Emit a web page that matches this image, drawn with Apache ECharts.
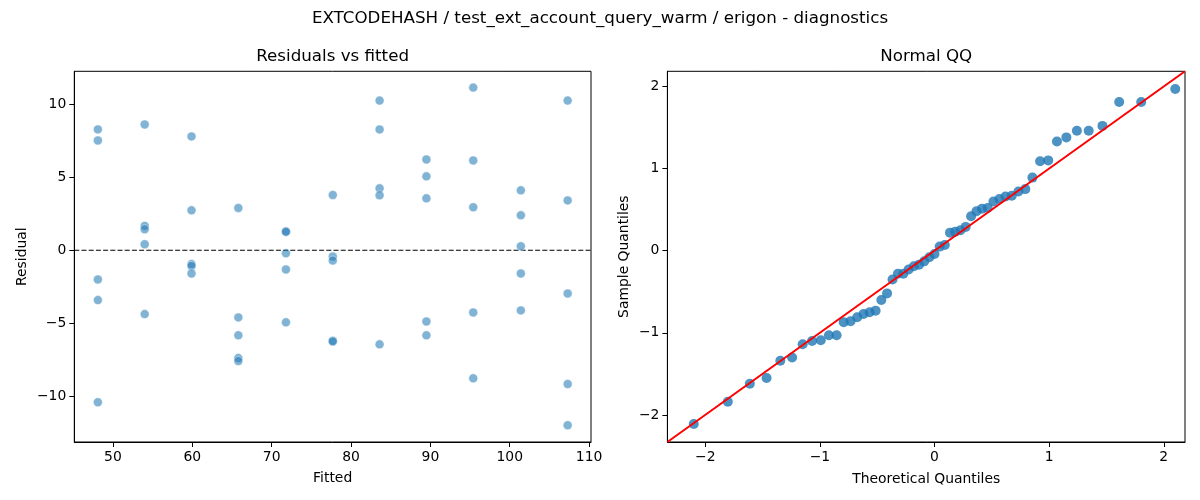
<!DOCTYPE html>
<html>
<head>
<meta charset="utf-8">
<script src="https://cdn.jsdelivr.net/npm/echarts@6/dist/echarts.min.js"></script>
<style>
html,body{margin:0;padding:0;background:#fff;}
#chart{width:1200px;height:500px;}
</style>
</head>
<body>
<div id="chart"></div>
<script>
// ---- data ----
const fitted = [48.1, 54.0, 59.9, 65.8, 71.8, 77.7, 83.6, 89.5, 95.4, 101.4, 107.3];
const residualsByGroup = [
  [8.29, 7.53, -2.01, -3.42, -10.43],
  [8.63, 1.67, 1.44, 0.41, -4.38],
  [7.81, 2.74, -0.95, -1.08, -1.60],
  [2.90, -4.61, -5.84, -7.40, -7.60],
  [1.30, 1.26, -0.21, -1.32, -4.95],
  [3.79, -0.43, -0.71, -6.21, -6.26],
  [10.27, 8.29, 4.25, 3.77, -6.46],
  [6.23, 5.07, 3.56, -4.89, -5.84],
  [11.16, 6.16, 2.95, -4.27, -8.79],
  [4.11, 2.40, 0.27, -1.60, -4.13],
  [10.27, 3.42, -2.97, -9.18, -12.01]
];
const theoreticalQ = [
  -2.100, -1.803, -1.611, -1.465, -1.345, -1.242, -1.150, -1.068, -0.992, -0.921,
  -0.854, -0.792, -0.732, -0.674, -0.619, -0.566, -0.514, -0.464, -0.414, -0.366,
  -0.319, -0.272, -0.226, -0.180, -0.135, -0.090, -0.045, 0.000, 0.045, 0.090,
  0.135, 0.180, 0.226, 0.272, 0.319, 0.366, 0.414, 0.464, 0.514, 0.566,
  0.619, 0.674, 0.732, 0.792, 0.854, 0.921, 0.992, 1.068, 1.150, 1.242,
  1.345, 1.465, 1.611, 1.803, 2.100
];
const sampleQ = [
  -2.11, -1.84, -1.62, -1.55, -1.34, -1.30, -1.14, -1.10, -1.09, -1.03,
  -1.03, -0.87, -0.86, -0.81, -0.77, -0.75, -0.73, -0.60, -0.52, -0.35,
  -0.28, -0.28, -0.23, -0.19, -0.17, -0.13, -0.08, -0.04, 0.05, 0.07,
  0.22, 0.23, 0.25, 0.29, 0.42, 0.48, 0.51, 0.52, 0.60, 0.63,
  0.66, 0.67, 0.72, 0.75, 0.89, 1.09, 1.10, 1.33, 1.38, 1.46,
  1.46, 1.52, 1.81, 1.81, 1.97
];
const fittedTicks = [50, 60, 70, 80, 90, 100, 110];
const residualTicks = [-10, -5, 0, 5, 10];
const qqTicks = [-2, -1, 0, 1, 2];

const titleText = 'EXTCODEHASH / test_ext_account_query_warm / erigon - diagnostics';
const leftTitle = 'Residuals vs fitted';
const rightTitle = 'Normal QQ';

// ---- build ----
const FONT = 'DejaVu Sans';
const leftX = [45.13, 110.24];
const leftY = [-13.16, 12.28];
const qqLim = [-2.33, 2.185];

const residPoints = [];
fitted.forEach((f, i) => residualsByGroup[i].forEach(r => residPoints.push([f, r])));
const qqPoints = theoreticalQ.map((t, i) => [t, sampleQ[i]]);

const fmt = v => String(v).replace('-', '\u2212');

function axisCommon(ticks, name, gap) {
  return {
    name: name,
    nameLocation: 'middle',
    nameGap: gap,
    nameTextStyle: {fontFamily: FONT, fontSize: 13.9, color: '#000'},
    axisLine: {show: true, onZero: false, lineStyle: {color: '#000', width: 1}},
    axisTick: {show: true, inside: false, length: 5, customValues: ticks, lineStyle: {color: '#000', width: 1}},
    axisLabel: {show: true, customValues: ticks, margin: 8, fontFamily: FONT, fontSize: 13.9, color: '#000', formatter: fmt},
    splitLine: {show: false}
  };
}

const option = {
  backgroundColor: '#fff',
  animation: false,
  title: [
    {text: titleText, left: 'center', top: 10, padding: 0,
     textStyle: {fontFamily: FONT, fontSize: 16.7, fontWeight: 'normal', color: '#000'}},
    {text: leftTitle, left: 332.6, textAlign: 'center', top: 48, padding: 0,
     textStyle: {fontFamily: FONT, fontSize: 16.7, fontWeight: 'normal', color: '#000'}},
    {text: rightTitle, left: 926.2, textAlign: 'center', top: 48, padding: 0,
     textStyle: {fontFamily: FONT, fontSize: 16.7, fontWeight: 'normal', color: '#000'}}
  ],
  grid: [
    {left: 74.3, top: 71.3, width: 516.7, height: 370.7, show: true, borderColor: '#000', borderWidth: 1, backgroundColor: 'transparent'},
    {left: 667.4, top: 71.3, width: 517.6, height: 370.7, show: true, borderColor: '#000', borderWidth: 1, backgroundColor: 'transparent'}
  ],
  xAxis: [
    Object.assign(axisCommon(fittedTicks, 'Fitted', 29), {type: 'value', gridIndex: 0, min: leftX[0], max: leftX[1]}),
    Object.assign(axisCommon(qqTicks, 'Theoretical Quantiles', 30), {type: 'value', gridIndex: 1, min: qqLim[0], max: qqLim[1]})
  ],
  yAxis: [
    Object.assign(axisCommon(residualTicks, 'Residual', 45), {type: 'value', gridIndex: 0, min: leftY[0], max: leftY[1]}),
    Object.assign(axisCommon(qqTicks, 'Sample Quantiles', 36), {type: 'value', gridIndex: 1, min: qqLim[0], max: qqLim[1]})
  ],
  series: [
    {
      type: 'line', xAxisIndex: 0, yAxisIndex: 0,
      data: [[leftX[0], 0], [leftX[1], 0]],
      symbol: 'none', silent: true,
      lineStyle: {color: '#000', width: 1.2, type: [5, 2.2]},
      z: 1
    },
    {
      type: 'scatter', xAxisIndex: 0, yAxisIndex: 0,
      data: residPoints,
      symbol: 'circle', symbolSize: 9,
      itemStyle: {color: 'rgba(31,119,180,0.7)', borderColor: 'rgba(255,255,255,0.7)', borderWidth: 0.8},
      z: 2
    },
    {
      type: 'scatter', xAxisIndex: 1, yAxisIndex: 1,
      data: qqPoints,
      symbol: 'circle', symbolSize: 10,
      itemStyle: {color: '#1f77b4'},
      z: 2
    },
    {
      type: 'line', xAxisIndex: 1, yAxisIndex: 1,
      data: [[qqLim[0], qqLim[0]], [qqLim[1], qqLim[1]]],
      symbol: 'none', silent: true,
      lineStyle: {color: '#ff0000', width: 2},
      z: 3
    }
  ]
};

const chart = echarts.init(document.getElementById('chart'), null, {renderer: 'canvas'});
chart.setOption(option);
</script>
</body>
</html>
